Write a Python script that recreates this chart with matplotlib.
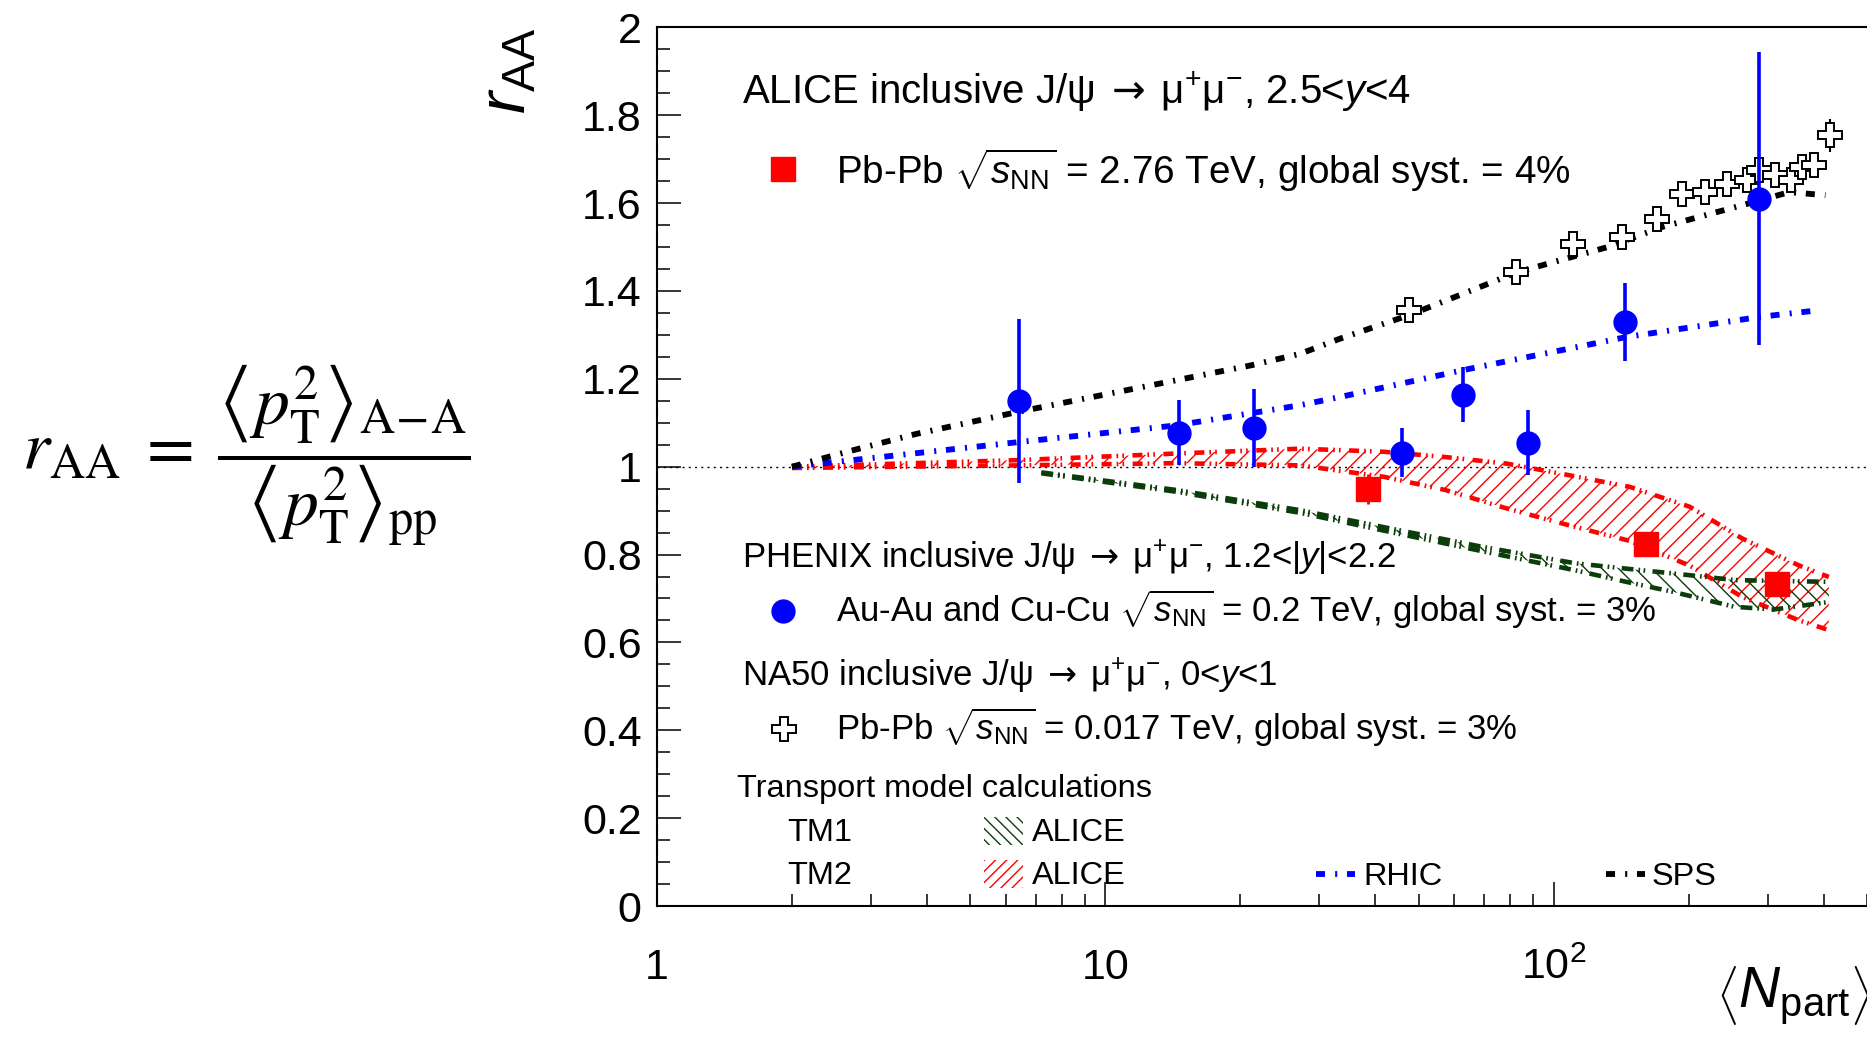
import matplotlib
matplotlib.use("Agg")
import numpy as np
import matplotlib.pyplot as plt
from matplotlib.lines import Line2D
from matplotlib.patches import Rectangle
from matplotlib.ticker import FixedLocator, LogLocator, MultipleLocator, NullFormatter

plt.rcParams['font.family'] = ['Liberation Sans', 'DejaVu Sans']
plt.rcParams['mathtext.fontset'] = 'custom'
plt.rcParams['mathtext.rm'] = 'Liberation Sans'
plt.rcParams['mathtext.it'] = 'Liberation Sans:italic'
plt.rcParams['mathtext.bf'] = 'Liberation Sans:bold'
plt.rcParams['mathtext.sf'] = 'DejaVu Sans'
plt.rcParams['hatch.linewidth'] = 1.0
plt.rcParams['lines.scale_dashes'] = False

# ALICE inclusive J/psi, Pb-Pb 2.76 TeV
alice_npart = [38.6, 160.8, 315.7]
alice_raa = [0.950, 0.825, 0.732]
alice_err = [0.034, 0.02, 0.02]

# PHENIX Au-Au and Cu-Cu 0.2 TeV
phenix_npart = [6.43, 14.6, 21.5, 46.0, 62.8, 87.5, 144.6, 287.7]
phenix_raa = [1.149, 1.077, 1.088, 1.032, 1.164, 1.054, 1.330, 1.610]
phenix_err = [0.187, 0.074, 0.089, 0.055, 0.063, 0.074, 0.089, 0.334]

# NA50 Pb-Pb 0.017 TeV
na50_npart = [47.6, 82.3, 110.3, 142.0, 170.0, 193.6, 217.7, 243.3,
              270.4, 287.7, 311.1, 338.0, 357.6, 381.7, 412.7]
na50_raa = [1.356, 1.443, 1.506, 1.523, 1.563, 1.621, 1.625, 1.644,
            1.652, 1.675, 1.663, 1.652, 1.682, 1.686, 1.754]
na50_err = [0.02, 0.02, 0.02, 0.02, 0.02, 0.02, 0.02, 0.02,
            0.02, 0.02, 0.02, 0.02, 0.02, 0.02, 0.038]

# transport model curves
sps_npart = [2.0, 2.75, 3.8, 6.4, 21.2, 27.2, 33.5, 47.6, 83.1, 132.0, 175.0, 288.0, 335.0, 404.0]
sps_raa = [1.0, 1.038, 1.075, 1.125, 1.231, 1.257, 1.292, 1.345, 1.443, 1.500, 1.546, 1.606, 1.625, 1.618]

rhic_npart = [2.0, 6.4, 14.4, 27.2, 33.5, 62.9, 145.0, 288.0, 389.0]
rhic_raa = [1.0, 1.056, 1.094, 1.140, 1.159, 1.220, 1.295, 1.341, 1.356]

tm2_npart = [2.0, 6.4, 14.4, 27.2, 41.8, 57.3, 78.6, 107.8, 147.9, 201.0, 263.0, 351.0, 411.0]
tm2_high = [1.0, 1.015, 1.030, 1.041, 1.034, 1.022, 1.007, 0.981, 0.954, 0.909, 0.837, 0.776, 0.749]
tm2_low = [0.997, 1.003, 1.008, 1.003, 0.977, 0.947, 0.905, 0.867, 0.831, 0.775, 0.704, 0.651, 0.628]

tm1_npart = [7.2, 14.4, 27.2, 43.4, 69.0, 111.9, 145.0, 184.8, 253.5, 310.0, 411.0]
tm1_high = [0.987, 0.947, 0.901, 0.859, 0.818, 0.780, 0.768, 0.757, 0.742, 0.740, 0.738]
tm1_low = [0.985, 0.943, 0.895, 0.851, 0.808, 0.764, 0.738, 0.715, 0.681, 0.675, 0.692]

y_ticks = [0, 0.2, 0.4, 0.6, 0.8, 1, 1.2, 1.4, 1.6, 1.8, 2]
y_labels = ['0', '0.2', '0.4', '0.6', '0.8', '1', '1.2', '1.4', '1.6', '1.8', '2']
x_ticks = [1, 10, 100]
x_labels = ['1', '10', r'$10^{2}$']

W, H = 1867, 1047
dark_green = '#0b3d0b'
sps_dash = (0, (6.5, 7.3, 1.5, 7.0))
tm2_dash = (0, (7.2, 3.6, 1.2, 3, 1.2, 6.1))
tm1_dash = (0, (8.5, 3.6, 1.2, 2.5, 1.2, 5.3))
decay = r'J/$\mathrm{\psi}\;\mathsf{\rightarrow}\;\mathrm{\mu^{+}\mu^{-}}$'


def at(px, py):
    # pixel position -> figure fraction
    return px / W, 1 - py / H


fig = plt.figure(figsize=(W / 100, H / 100), dpi=100)
ax = fig.add_axes([657 / W, 1 - 906 / H, 1 - 657 / W, (906 - 27.4) / H])
ax.set_xscale('log')
ax.set_xlim(1, 500)
ax.set_ylim(0, 2)

ax.axhline(1, color='black', lw=1.0, ls=(0, (1.5, 3)), zorder=1)

ax.fill_between(tm2_npart, tm2_low, tm2_high, facecolor='none', edgecolor='red',
                hatch='//', linewidth=0, zorder=2)
ax.fill_between(tm1_npart, tm1_low, tm1_high, facecolor='none', edgecolor=dark_green,
                hatch='\\\\', linewidth=0, zorder=2)
ax.plot(tm2_npart, tm2_high, color='red', lw=3.3, ls=tm2_dash, zorder=3)
ax.plot(tm2_npart, tm2_low, color='red', lw=3.3, ls=tm2_dash, zorder=3)
ax.plot(tm1_npart, tm1_high, color=dark_green, lw=3.3, ls=tm1_dash, zorder=3)
ax.plot(tm1_npart, tm1_low, color=dark_green, lw=3.3, ls=tm1_dash, zorder=3)
ax.plot(rhic_npart, rhic_raa, color='blue', lw=4.2, ls=sps_dash, zorder=3)
ax.plot(sps_npart, sps_raa, color='black', lw=4.2, ls=sps_dash, zorder=3)

ax.errorbar(na50_npart, na50_raa, yerr=na50_err, fmt='P', ms=17, mfc='white',
            mec='black', mew=1.4, ecolor='black', elinewidth=1.5, capsize=0, zorder=4)
ax.errorbar(alice_npart, alice_raa, yerr=alice_err, fmt='s', ms=17.3, color='red',
            elinewidth=2.0, capsize=0, zorder=5)
ax.errorbar(phenix_npart, phenix_raa, yerr=phenix_err, fmt='o', ms=16.5, color='blue',
            elinewidth=2.6, capsize=0, zorder=6)

# axes frame and ticks
for side in ('left', 'bottom', 'top'):
    ax.spines[side].set_linewidth(1.5)
ax.spines['right'].set_visible(False)
ax.yaxis.set_major_locator(FixedLocator(y_ticks))
ax.set_yticklabels(y_labels)
ax.yaxis.set_minor_locator(MultipleLocator(0.05))
ax.xaxis.set_major_locator(FixedLocator(x_ticks))
ax.set_xticklabels(x_labels)
ax.xaxis.set_minor_locator(LogLocator(base=10, subs=np.arange(2, 10), numticks=20))
ax.xaxis.set_minor_formatter(NullFormatter())
ax.tick_params(which='both', direction='in', top=False, right=False, width=1.1)
ax.tick_params(which='major', length=17.5)
ax.tick_params(which='minor', length=9)
ax.tick_params(axis='y', which='major', labelsize=31, pad=11)
ax.tick_params(axis='x', which='major', labelsize=31, pad=30)

fig.text(*at(525, 28), r'$r_{\mathrm{AA}}$', fontsize=48, rotation=90,
         rotation_mode='anchor', ha='right', va='baseline')
fig.text(*at(1716, 1008), r'$\left\langle N_{\mathrm{part}}\right\rangle$', fontsize=41,
         ha='left', va='baseline')

fig.text(*at(22, 455),
         r'$r_{\mathrm{AA}}\;=\;\dfrac{\left\langle p_{\mathrm{T}}^{2}\right\rangle_{\mathrm{A\!-\!A}}}'
         r'{\left\langle p_{\mathrm{T}}^{2}\right\rangle_{\mathrm{pp}}}$',
         fontsize=50, math_fontfamily='stix', ha='left', va='center')

# legend block
fig.text(*at(742, 104), 'ALICE inclusive ' + decay + r', 2.5<$y$<4',
         fontsize=29, va='baseline')
fig.text(*at(836, 184), r'Pb-Pb $\sqrt{s_{\mathrm{NN}}}$ = 2.76 TeV, global syst. = 4%',
         fontsize=27.8, va='baseline')
fig.text(*at(742, 568), 'PHENIX inclusive ' + decay + r', 1.2<|$y$|<2.2',
         fontsize=25, va='baseline')
fig.text(*at(836, 622), r'Au-Au and Cu-Cu $\sqrt{s_{\mathrm{NN}}}$ = 0.2 TeV, global syst. = 3%',
         fontsize=25, va='baseline')
fig.text(*at(742, 686), 'NA50 inclusive ' + decay + r', 0<$y$<1',
         fontsize=25, va='baseline')
fig.text(*at(836, 740), r'Pb-Pb $\sqrt{s_{\mathrm{NN}}}$ = 0.017 TeV, global syst. = 3%',
         fontsize=25, va='baseline')
fig.text(*at(737, 797), 'Transport model calculations', fontsize=23.4, va='baseline')
fig.text(*at(787, 841), 'TM1', fontsize=23.4, va='baseline')
fig.text(*at(787, 884), 'TM2', fontsize=23.4, va='baseline')
fig.text(*at(1032, 841), 'ALICE', fontsize=23.4, va='baseline')
fig.text(*at(1032, 884), 'ALICE', fontsize=23.4, va='baseline')
fig.text(*at(1363, 885), 'RHIC', fontsize=23.4, va='baseline')
fig.text(*at(1652, 885), 'SPS', fontsize=23.4, va='baseline')

fig.add_artist(Line2D(*zip(at(783, 169)), marker='s', ms=17.3, color='red', ls='none'))
fig.add_artist(Line2D(*zip(at(783, 611)), marker='o', ms=16.5, color='blue', ls='none'))
fig.add_artist(Line2D(*zip(at(783.5, 729)), marker='P', ms=17, mfc='white', mec='black',
                      mew=1.4, ls='none'))
x0, y0 = at(984, 845)
fig.add_artist(Rectangle((x0, y0), 39 / W, 28 / H, transform=fig.transFigure,
                         facecolor='none', edgecolor=dark_green, hatch='\\\\\\', linewidth=0))
x0, y0 = at(984, 888)
fig.add_artist(Rectangle((x0, y0), 39 / W, 28 / H, transform=fig.transFigure,
                         facecolor='none', edgecolor='red', hatch='///', linewidth=0))
xa, ya = at(1316, 874)
xb, _ = at(1355, 874)
fig.add_artist(Line2D([xa, xb], [ya, ya], color='blue', lw=4.2, ls=sps_dash))
xa, ya = at(1606, 874)
xb, _ = at(1645, 874)
fig.add_artist(Line2D([xa, xb], [ya, ya], color='black', lw=4.2, ls=sps_dash))

fig.savefig('out.png', dpi=100)
